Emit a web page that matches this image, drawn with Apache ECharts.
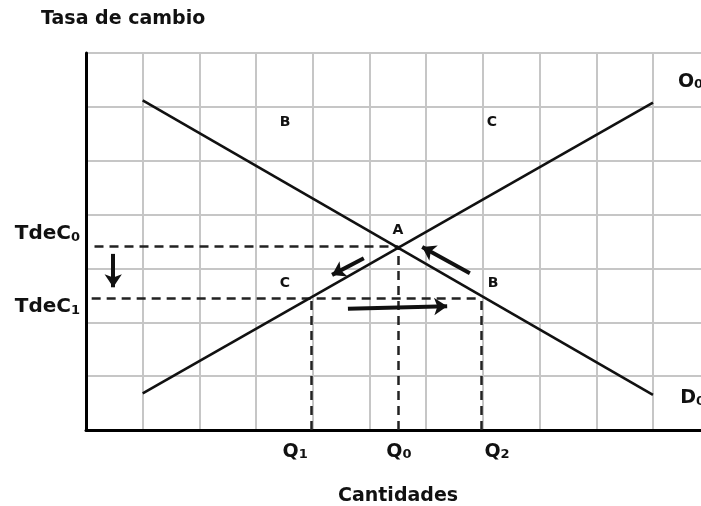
<!DOCTYPE html>
<html>
<head>
<meta charset="utf-8">
<script src="https://cdn.jsdelivr.net/npm/echarts@6/dist/echarts.min.js"></script>
<style>
	html, body { margin: 0; padding: 0; background: #fff; }
	#chart { width: 701px; height: 506px; }
</style>
</head>
<body>
<div id="chart"></div>
<script>
// curvas de oferta y demanda (extremos)
const demandX = [1, 10];
const demandY = [6.12, 0.65];
const supplyX = [1, 10];
const supplyY = [0.68, 6.08];

// tasas y cantidades marcadas
const rateNames = ['TdeC0', 'TdeC1'];
const rateValues = [3.42, 2.45];
const qtyNames = ['Q1', 'Q0', 'Q2'];
const qtyValues = [3.98, 5.5, 6.97];

// flechas: origen y destino
const arrowFrom = [[0.48, 3.27], [4.90, 3.19], [6.77, 2.91], [4.62, 2.25]];
const arrowTo = [[0.48, 2.65], [4.34, 2.88], [5.93, 3.40], [6.37, 2.30]];

// letras de los puntos
const pointNames = ['B', 'C', 'A', 'C', 'B'];
const pointX = [3.51, 7.16, 5.50, 3.51, 7.18];
const pointY = [5.72, 5.72, 3.71, 2.73, 2.73];

// etiquetas de curvas y de ejes
const curveNames = ['O0', 'D0'];
const curveLabelX = [10.44, 10.48];
const curveLabelY = [6.46, 0.59];
const qtyLabelX = [3.69, 5.52, 7.25];
const qtyLabelY = -0.41;
const rateLabelX = -0.106;
const rateLabelY = [3.64, 2.28];

const FONT = 'DejaVu Sans';
const INK = '#111';

let myChart = echarts.init(document.getElementById('chart'));

/*segmentos punteados*/
let guides = [
	[[0.15, rateValues[0]], [qtyValues[1], rateValues[0]]],
	[[0.1, rateValues[1]], [qtyValues[2], rateValues[1]]],
	[[qtyValues[0], 0], [qtyValues[0], rateValues[1]]],
	[[qtyValues[1], 0], [qtyValues[1], rateValues[0]]],
	[[qtyValues[2], 0], [qtyValues[2], rateValues[1]]]
];

/*textos*/
let labels = [];
pointNames.forEach((n, i) => {
	labels.push({ value: [pointX[i], pointY[i]], name: n, label: { align: 'center' } });
});
curveNames.forEach((n, i) => {
	labels.push({ value: [curveLabelX[i], curveLabelY[i]], name: n, label: { align: 'left' } });
});
qtyNames.forEach((n, i) => {
	labels.push({ value: [qtyLabelX[i], qtyLabelY], name: n, label: { align: 'center' } });
});
rateNames.forEach((n, i) => {
	labels.push({ value: [rateLabelX, rateLabelY[i]], name: n, label: { align: 'right' } });
});

function fmt(p) {
	let n = p.name;
	if (n.length === 1) {
		return '{p|' + n + '}';
	}
	if (n.indexOf('TdeC') === 0) {
		return '{t|TdeC}{s|' + n.slice(4) + '}';
	}
	return '{b|' + n.slice(0, 1) + '}{q|' + n.slice(1) + '}';
}

let option = {
	animation: false,
	title: [{
		text: 'Tasa de cambio',
		left: 36,
		top: 5,
		textStyle: { fontFamily: FONT, fontWeight: 'bold', fontSize: 19, color: INK }
	}, {
		text: 'Cantidades',
		left: 333,
		top: 482,
		textStyle: { fontFamily: FONT, fontWeight: 'bold', fontSize: 19, color: INK }
	}],
	grid: { left: 86, top: 53, width: 635, height: 377, outerBoundsMode: 'none', containLabel: false },
	xAxis: {
		type: 'value',
		min: 0,
		max: 11.2,
		interval: 1,
		axisLine: { show: true, lineStyle: { color: '#000', width: 3 } },
		axisTick: { show: false },
		axisLabel: { show: false },
		splitLine: { show: true, lineStyle: { color: '#c6c6c6', width: 2 } }
	},
	yAxis: {
		type: 'value',
		min: 0,
		max: 7,
		interval: 1,
		axisLine: { show: true, lineStyle: { color: '#000', width: 3 } },
		axisTick: { show: false },
		axisLabel: { show: false },
		splitLine: { show: true, lineStyle: { color: '#c6c6c6', width: 2 } }
	},
	series: [{
		name: 'D0',
		type: 'line',
		symbol: 'none',
		data: demandX.map((x, i) => [x, demandY[i]]),
		lineStyle: { color: INK, width: 2.6 },
		z: 4
	}, {
		name: 'O0',
		type: 'line',
		symbol: 'none',
		data: supplyX.map((x, i) => [x, supplyY[i]]),
		lineStyle: { color: INK, width: 2.6 },
		z: 4
	}, {
		type: 'lines',
		coordinateSystem: 'cartesian2d',
		data: guides.map(g => ({ coords: g })),
		symbol: 'none',
		lineStyle: { color: '#222', width: 2.5, type: [9, 6], opacity: 1 },
		z: 3
	}, {
		type: 'lines',
		coordinateSystem: 'cartesian2d',
		data: arrowFrom.map((a, i) => ({ coords: [a, arrowTo[i]] })),
		symbol: ['none', 'arrow'],
		symbolSize: [12, 13],
		lineStyle: { color: INK, width: 4, opacity: 1 },
		z: 5
	}, {
		type: 'scatter',
		symbolSize: 1,
		clip: false,
		itemStyle: { color: 'rgba(0,0,0,0)', opacity: 1 },
		data: labels,
		label: {
			show: true,
			position: 'inside',
			color: INK,
			opacity: 1,
			textBorderWidth: 0,
			formatter: fmt,
			rich: {
				p: { fontFamily: FONT, fontWeight: 'bold', fontSize: 14, color: INK, textBorderWidth: 0 },
				t: { fontFamily: FONT, fontWeight: 'bold', fontSize: 20, color: INK, verticalAlign: 'bottom', textBorderWidth: 0 },
				b: { fontFamily: FONT, fontWeight: 'bold', fontSize: 19, color: INK, verticalAlign: 'bottom', textBorderWidth: 0 },
				s: { fontFamily: FONT, fontWeight: 'bold', fontSize: 13, color: INK, verticalAlign: 'bottom', textBorderWidth: 0 },
				q: { fontFamily: FONT, fontWeight: 'bold', fontSize: 13, color: INK, verticalAlign: 'bottom', lineHeight: 8, textBorderWidth: 0 }
			}
		},
		z: 6
	}]
};

myChart.setOption(option);
</script>
</body>
</html>
